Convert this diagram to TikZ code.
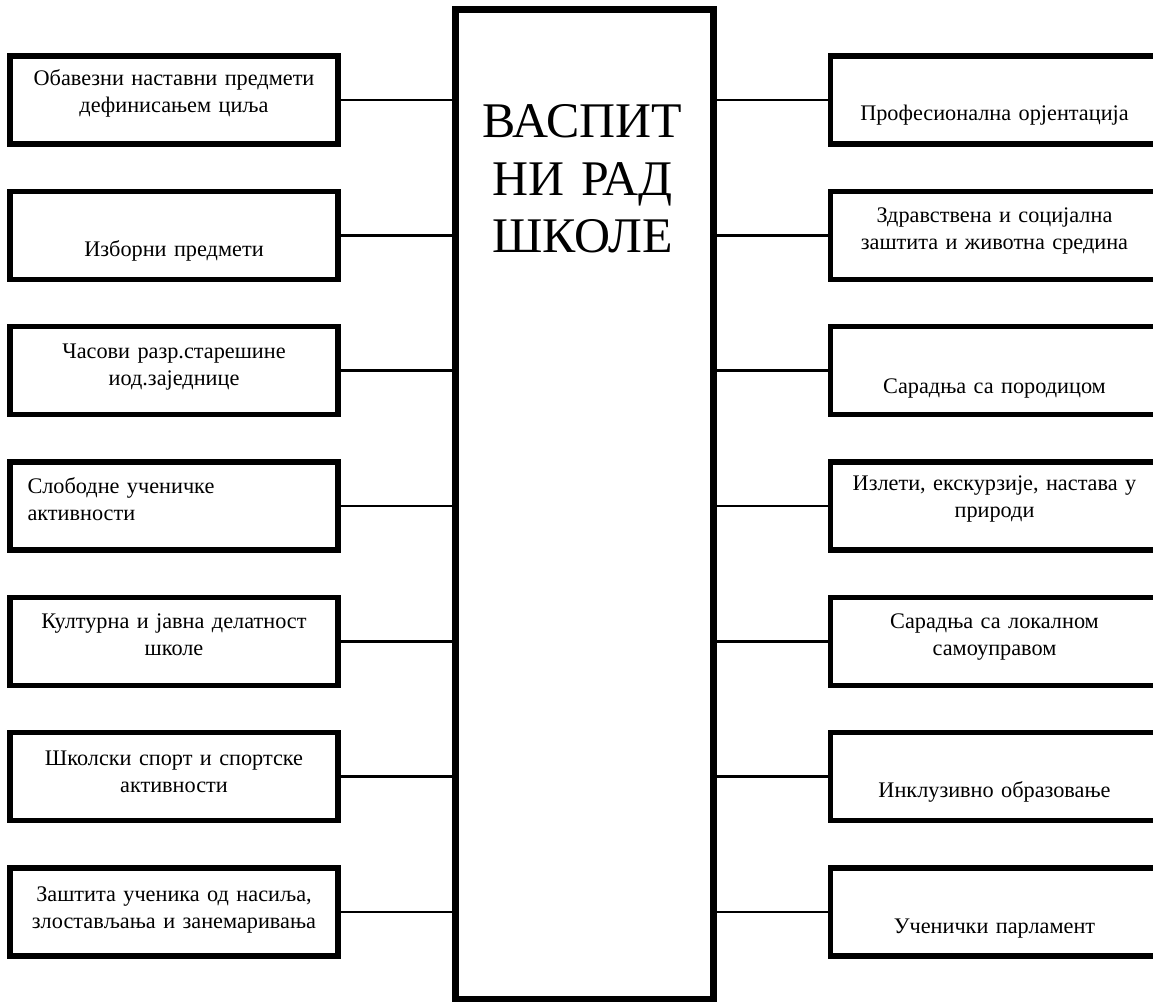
\documentclass[tikz,border=0pt]{standalone}
\usepackage{fontspec}
\setmainfont{Liberation Serif}
\usetikzlibrary{calc}
\begin{document}
\begin{tikzpicture}[x=0.75pt,y=-0.75pt,
  sidebox/.style={draw, line width=4.1pt, rectangle, inner sep=0pt,
    minimum width=246pt, minimum height=66pt},
  mainbox/.style={draw, line width=4.9pt, rectangle, inner sep=0pt,
    minimum width=193.5pt, minimum height=742.1pt},
  conn/.style={line width=1.9pt},
  lbl/.style={inner sep=0pt, anchor=base, text width=240pt, align=center,
    font=\fontsize{16.7}{20.2}\selectfont},
  lbll/.style={inner sep=0pt, anchor=base west, text width=240pt, align=left,
    font=\fontsize{16.7}{20.2}\selectfont},
  bigtxt/.style={inner sep=0pt, anchor=base, text width=190pt, align=center,
    font=\fontsize{37.4}{43.4}\selectfont}]
\useasboundingbox (0,0) rectangle (1153,1002);
\clip (0,0) rectangle (1153,1002);

% central box
\node[mainbox] (C) at (584.5,504.25) {};
\node[bigtxt] (Ct) at ($(C.north)+(-2,131)$) {ВАСПИТ\\НИ РАД\\ШКОЛЕ};

% left boxes
\node[sidebox] (L1) at (174,100) {};
\node[sidebox] (L2) at (174,235.3) {};
\node[sidebox] (L3) at (174,370.7) {};
\node[sidebox] (L4) at (174,506) {};
\node[sidebox] (L5) at (174,641.3) {};
\node[sidebox] (L6) at (174,776.7) {};
\node[sidebox] (L7) at (174,912) {};

% right boxes
\node[sidebox] (R1) at (994.5,100) {};
\node[sidebox] (R2) at (994.5,235.3) {};
\node[sidebox] (R3) at (994.5,370.7) {};
\node[sidebox] (R4) at (994.5,506) {};
\node[sidebox] (R5) at (994.5,641.3) {};
\node[sidebox] (R6) at (994.5,776.7) {};
\node[sidebox] (R7) at (994.5,912) {};

% left texts
\node[lbl] (L1t) at ($(L1.north)+(0,32)$) {Обавезни наставни предмети\\дефинисањем циља};
\node[lbl] (L2t) at ($(L2.north)+(0,68)$) {Изборни предмети};
\node[lbl] (L3t) at ($(L3.north)+(0,35)$) {Часови разр.старешине\\иод.заједнице};
\node[lbll] (L4t) at ($(L4.north west)+(20,34)$) {Слободне ученичке\\активности};
\node[lbl] (L5t) at ($(L5.north)+(0,34)$) {Културна и јавна делатност\\школе};
\node[lbl] (L6t) at ($(L6.north)+(0,36)$) {Школски спорт и спортске\\активности};
\node[lbl] (L7t) at ($(L7.north)+(0,36)$) {Заштита ученика од насиља,\\злостављања и занемаривања};

% right texts
\node[lbl] (R1t) at ($(R1.north)+(0,67)$) {Професионална орјентација};
\node[lbl] (R2t) at ($(R2.north)+(0,34)$) {Здравствена и социјална\\заштита и животна средина};
\node[lbl] (R3t) at ($(R3.north)+(0,70)$) {Сарадња са породицом};
\node[lbl] (R4t) at ($(R4.north)+(0,31)$) {Излети, екскурзије, настава у\\природи};
\node[lbl] (R5t) at ($(R5.north)+(0,34)$) {Сарадња са локалном\\самоуправом};
\node[lbl] (R6t) at ($(R6.north)+(0,68)$) {Инклузивно образовање};
\node[lbl] (R7t) at ($(R7.north)+(0,68)$) {Ученички парламент};

% connectors
\foreach \i in {1,...,7}{
  \draw[conn] (L\i.east) -- (L\i.east -| C.west);
  \draw[conn] (R\i.west) -- (R\i.west -| C.east);
}
\end{tikzpicture}
\end{document}
